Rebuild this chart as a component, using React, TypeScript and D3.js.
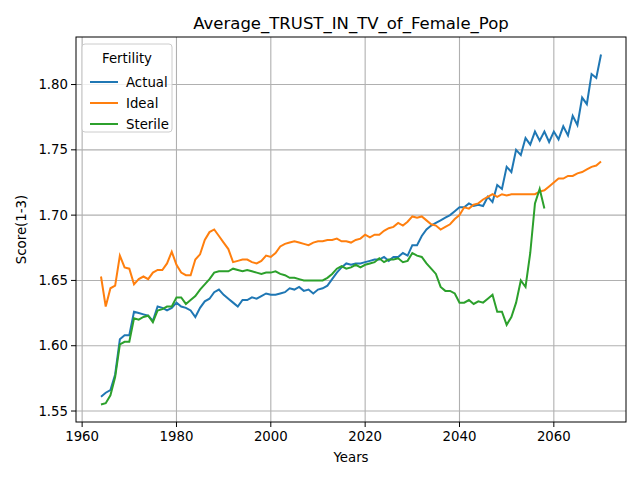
import React from 'react';
import * as d3 from 'd3';

const startYear = 1964;
const actual = [1.561,1.564,1.566,1.578,1.605,1.608,1.608,1.626,1.625,1.624,1.623,1.619,1.630,1.629,1.627,1.629,1.633,1.630,1.629,1.627,1.622,1.629,1.634,1.636,1.641,1.643,1.639,1.636,1.633,1.630,1.635,1.635,1.637,1.636,1.638,1.640,1.639,1.639,1.640,1.641,1.644,1.643,1.645,1.642,1.643,1.640,1.643,1.644,1.646,1.651,1.656,1.660,1.663,1.662,1.663,1.663,1.664,1.665,1.666,1.666,1.668,1.665,1.668,1.668,1.671,1.669,1.677,1.677,1.684,1.689,1.692,1.694,1.696,1.698,1.700,1.703,1.706,1.706,1.709,1.707,1.708,1.707,1.714,1.710,1.723,1.720,1.737,1.733,1.750,1.746,1.759,1.754,1.764,1.757,1.764,1.756,1.764,1.758,1.768,1.761,1.776,1.769,1.790,1.785,1.808,1.805,1.823];
const ideal = [1.653,1.630,1.644,1.646,1.669,1.660,1.659,1.647,1.651,1.653,1.651,1.656,1.658,1.658,1.663,1.672,1.662,1.656,1.654,1.654,1.666,1.670,1.681,1.687,1.689,1.684,1.679,1.674,1.664,1.665,1.666,1.666,1.664,1.663,1.665,1.669,1.668,1.671,1.676,1.678,1.679,1.680,1.679,1.678,1.677,1.679,1.680,1.680,1.681,1.681,1.682,1.680,1.680,1.679,1.681,1.682,1.685,1.683,1.685,1.685,1.688,1.690,1.691,1.694,1.692,1.695,1.699,1.698,1.699,1.696,1.693,1.692,1.689,1.691,1.693,1.697,1.700,1.706,1.705,1.708,1.709,1.712,1.714,1.716,1.714,1.716,1.715,1.716,1.716,1.716,1.716,1.716,1.716,1.718,1.719,1.722,1.725,1.728,1.728,1.730,1.730,1.732,1.733,1.735,1.737,1.738,1.741];
const sterile = [1.555,1.556,1.562,1.576,1.601,1.603,1.603,1.621,1.620,1.622,1.623,1.618,1.627,1.628,1.630,1.630,1.637,1.637,1.632,1.635,1.638,1.643,1.647,1.651,1.656,1.657,1.657,1.657,1.659,1.658,1.657,1.658,1.657,1.656,1.655,1.656,1.656,1.657,1.655,1.654,1.652,1.652,1.651,1.650,1.650,1.650,1.650,1.650,1.652,1.655,1.659,1.661,1.659,1.660,1.662,1.660,1.662,1.663,1.664,1.667,1.664,1.666,1.666,1.667,1.664,1.665,1.671,1.669,1.668,1.663,1.659,1.655,1.645,1.642,1.642,1.640,1.633,1.633,1.635,1.632,1.634,1.633,1.636,1.639,1.626,1.626,1.616,1.622,1.633,1.650,1.645,1.671,1.709,1.720,1.705];
const seriesNames = ['Actual', 'Ideal', 'Sterile'];
const colors = ['#1f77b4', '#ff7f0e', '#2ca02c'];
const xTicks = [1960, 1980, 2000, 2020, 2040, 2060];
const yTicks = [1.55, 1.6, 1.65, 1.7, 1.75, 1.8];

export default function App() {
  const width = 640, height = 480;
  const margin = { top: 37, right: 14, bottom: 58, left: 76 };
  const series = [actual, ideal, sterile].map(vals => vals.map((v, i) => ({ year: startYear + i, value: v })));

  const x = d3.scaleLinear().domain([1958.7, 2075.3]).range([margin.left, width - margin.right]);
  const y = d3.scaleLinear().domain([1.5416, 1.8364]).range([height - margin.bottom, margin.top]);
  const line = d3.line<{ year: number; value: number }>().x(d => x(d.year)).y(d => y(d.value));
  const font = 'DejaVu Sans, sans-serif';

  return (
    <svg width={width} height={height} style={{ position: 'absolute', left: 0, top: 0, background: '#fff' }} fontFamily={font}>
      {xTicks.map(t => (
        <g key={'x' + t}>
          <line x1={x(t)} x2={x(t)} y1={margin.top} y2={height - margin.bottom} stroke="#b0b0b0" strokeWidth={1.1} />
          <line x1={x(t)} x2={x(t)} y1={height - margin.bottom} y2={height - margin.bottom + 5} stroke="#000" />
          <text x={x(t)} y={height - margin.bottom + 19} fontSize={13.3} textAnchor="middle">{t}</text>
        </g>
      ))}
      {yTicks.map(t => (
        <g key={'y' + t}>
          <line x1={margin.left} x2={width - margin.right} y1={y(t)} y2={y(t)} stroke="#b0b0b0" strokeWidth={1.1} />
          <line x1={margin.left - 5} x2={margin.left} y1={y(t)} y2={y(t)} stroke="#000" />
          <text x={margin.left - 8} y={y(t) + 4.6} fontSize={13.3} textAnchor="end">{t.toFixed(2)}</text>
        </g>
      ))}
      {series.map((s, i) => (
        <path key={i} d={line(s) || ''} fill="none" stroke={colors[i]} strokeWidth={2} />
      ))}
      <rect x={margin.left} y={margin.top} width={width - margin.left - margin.right} height={height - margin.top - margin.bottom} fill="none" stroke="#000" strokeWidth={1} />
      <text x={(margin.left + width - margin.right) / 2} y={29} fontSize={16.5} textAnchor="middle">Average_TRUST_IN_TV_of_Female_Pop</text>
      <text x={(margin.left + width - margin.right) / 2} y={462} fontSize={13.3} textAnchor="middle">Years</text>
      <text transform={`translate(26,${(margin.top + height - margin.bottom) / 2}) rotate(-90)`} fontSize={13.3} textAnchor="middle">Score(1-3)</text>
      <g transform="translate(82,44)">
        <rect width={90} height={88} rx={3} fill="#fff" fillOpacity={0.8} stroke="#ccc" />
        <text x={45} y={19} fontSize={13.3} textAnchor="middle">Fertility</text>
        {seriesNames.map((n, i) => (
          <g key={n} transform={`translate(0,${38 + i * 21})`}>
            <line x1={8} x2={36} y1={0} y2={0} stroke={colors[i]} strokeWidth={2} />
            <text x={44} y={4.6} fontSize={13.3}>{n}</text>
          </g>
        ))}
      </g>
    </svg>
  );
}
